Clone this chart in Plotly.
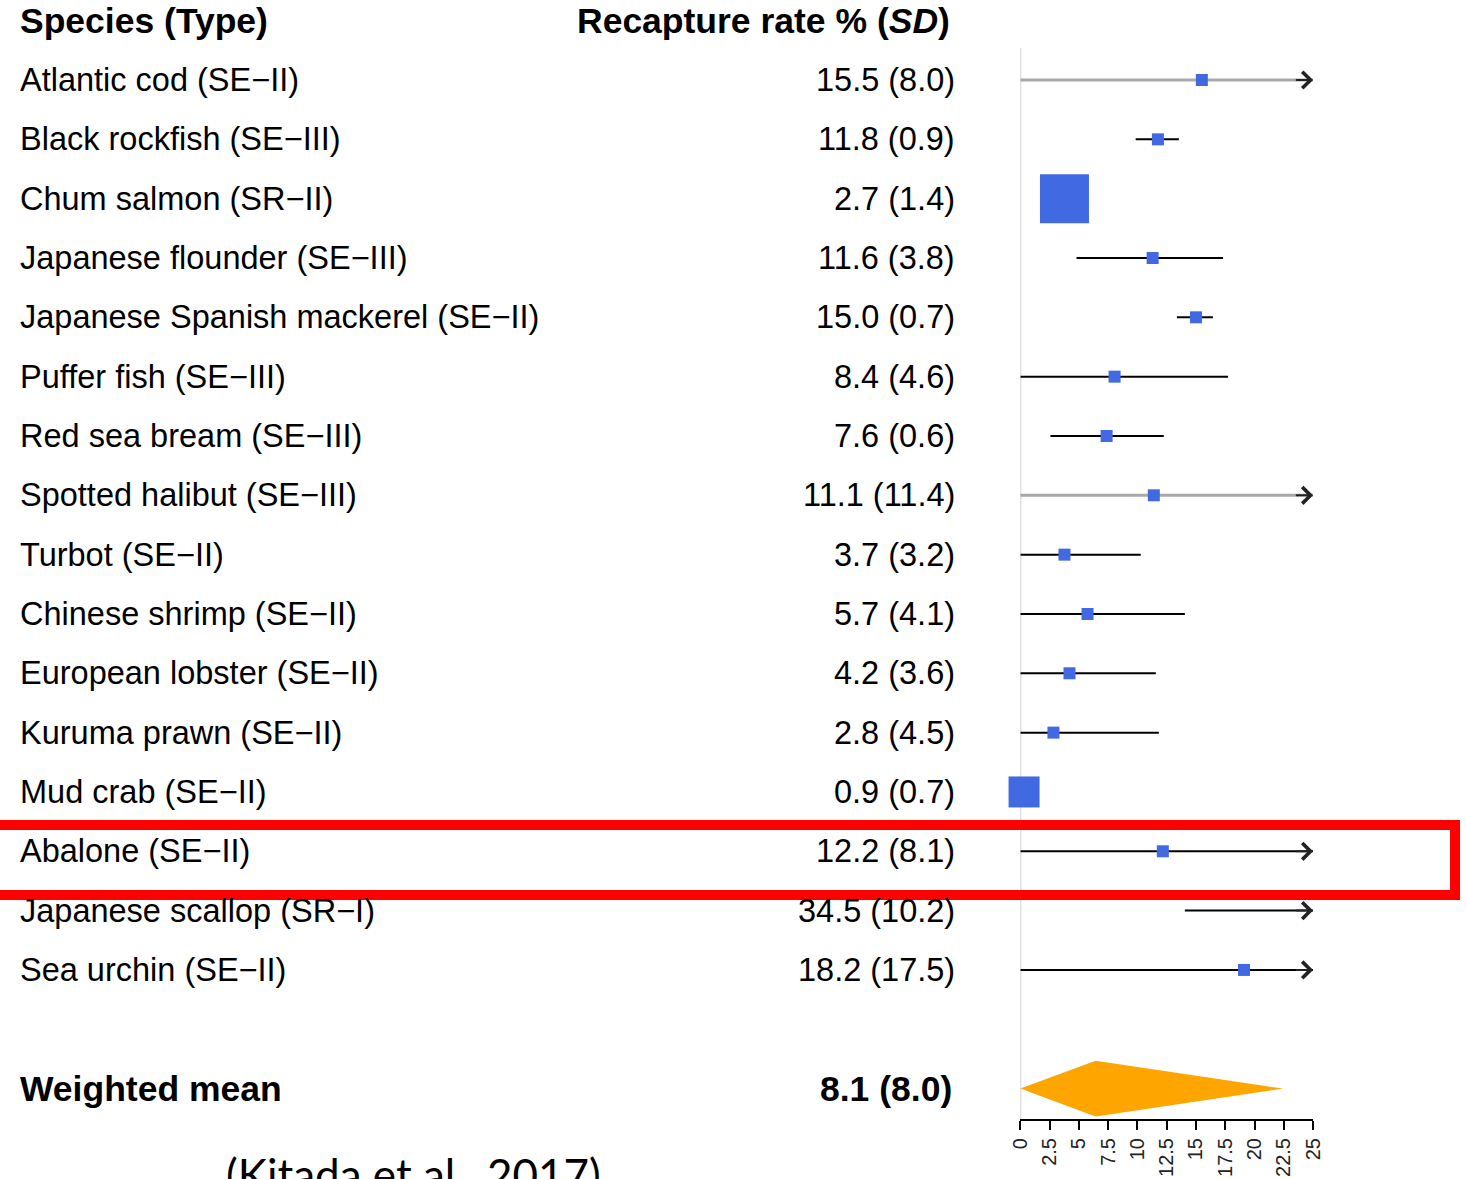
import plotly.graph_objects as go

# ---------------- data ----------------
species = [
    "Atlantic cod (SE\u2212II)",
    "Black rockfish (SE\u2212III)",
    "Chum salmon (SR\u2212II)",
    "Japanese flounder (SE\u2212III)",
    "Japanese Spanish mackerel (SE\u2212II)",
    "Puffer fish (SE\u2212III)",
    "Red sea bream (SE\u2212III)",
    "Spotted halibut (SE\u2212III)",
    "Turbot (SE\u2212II)",
    "Chinese shrimp (SE\u2212II)",
    "European lobster (SE\u2212II)",
    "Kuruma prawn (SE\u2212II)",
    "Mud crab (SE\u2212II)",
    "Abalone (SE\u2212II)",
    "Japanese scallop (SR\u2212I)",
    "Sea urchin (SE\u2212II)",
]
rate_text = [
    "15.5 (8.0)", "11.8 (0.9)", "2.7 (1.4)", "11.6 (3.8)", "15.0 (0.7)",
    "8.4 (4.6)", "7.6 (0.6)", "11.1 (11.4)", "3.7 (3.2)", "5.7 (4.1)",
    "4.2 (3.6)", "2.8 (4.5)", "0.9 (0.7)", "12.2 (8.1)", "34.5 (10.2)",
    "18.2 (17.5)",
]
# point estimates and interval limits as read from the plotted axis
estimate = [15.5, 11.75, 3.77, 11.3, 15.0, 8.05, 7.37, 11.4, 3.77, 5.74,
            4.2, 2.83, 0.32, 12.17, 34.5, 19.1]
ci_low = [0.0, 9.85, 2.0, 4.8, 13.37, 0.0, 2.57, 0.0, 0.0, 0.0,
          0.0, 0.0, 0.0, 0.0, 14.05, 0.0]
ci_high = [31.2, 13.54, 5.5, 17.3, 16.45, 17.74, 12.25, 33.4, 10.28, 14.05,
           11.57, 11.83, 0.9, 28.1, 54.5, 52.5]

mean_label = "Weighted mean"
mean_text = "8.1 (8.0)"
mean_low, mean_peak, mean_high = 0.0, 6.43, 22.45

x_ticks = [0, 2.5, 5, 7.5, 10, 12.5, 15, 17.5, 20, 22.5, 25]
x_tick_text = ["0", "2.5", "5", "7.5", "10", "12.5", "15", "17.5", "20", "22.5", "25"]
citation = "(Kitada et al., 2017)"

# ---------------- style ----------------
W, H = 1466, 1179
WE = 1455.0          # effective rendered width used for paper fractions
XMAX = 25
FONT = "Liberation Sans, Arial, sans-serif"
BLUE = "#4169E1"
box_px = [12, 12, 49, 12, 12, 12, 12, 12, 12, 12, 12, 12, 31, 12, 12, 12]
line_col = ["#A8A8A8", "black", "black", "black", "black", "black", "black",
            "#A8A8A8", "black", "black", "black", "black", "black", "black",
            "black", "black"]
line_w = [3 if c != "black" else 2 for c in line_col]
mean_row = len(species) + 1

row0_px, pitch = 80.0, 59.33
axis_px = 1119.0
y_bottom = (axis_px - row0_px) / pitch
y_top = (0 - row0_px) / pitch
dom_bottom = (H - axis_px) / H

LPAD = 14   # annotation inner offset, left-anchored
RPAD = -1   # annotation inner offset, right-anchored


def px(v):
    return v / WE


fig = go.Figure()

# interval lines
for i in range(len(species)):
    x0 = max(ci_low[i], 0)
    x1 = min(ci_high[i], XMAX)
    fig.add_trace(go.Scatter(
        x=[x0, x1], y=[i, i], mode="lines",
        line=dict(color=line_col[i], width=line_w[i]),
        hoverinfo="skip", showlegend=False, cliponaxis=False))
    if ci_high[i] > XMAX:
        fig.add_annotation(
            x=XMAX, y=i, ax=XMAX - 1.6, ay=i, xref="x", yref="y",
            axref="x", ayref="y", text="", showarrow=True,
            arrowhead=4, arrowsize=1.6, arrowwidth=2, arrowcolor="#222222",
            standoff=0, startstandoff=0, font=dict(size=1))

# boxes
idx = [i for i in range(len(species)) if estimate[i] <= XMAX]
fig.add_trace(go.Scatter(
    x=[estimate[i] for i in idx], y=idx, mode="markers",
    marker=dict(symbol="square", size=[box_px[i] for i in idx], color=BLUE,
                opacity=1, line=dict(width=0)),
    hoverinfo="skip", showlegend=False, cliponaxis=False))

# summary diamond
dh = 0.47
fig.add_trace(go.Scatter(
    x=[mean_low, mean_peak, mean_high, mean_peak, mean_low],
    y=[mean_row, mean_row - dh, mean_row, mean_row + dh, mean_row],
    mode="lines", fill="toself", fillcolor="#FFA500",
    line=dict(width=0, color="#FFA500"),
    hoverinfo="skip", showlegend=False, cliponaxis=False))

# reference line at 0
fig.add_shape(type="line", xref="x", yref="y", x0=0, x1=0,
              y0=(48 - row0_px) / pitch, y1=y_bottom,
              line=dict(color="#D3D3D3", width=2), layer="below")

# text columns
tf = dict(family=FONT, size=32.5, color="black")
bf = dict(family=FONT, size=35.5, color="black")
for i, (s, r) in enumerate(zip(species, rate_text)):
    fig.add_annotation(x=px(20 - LPAD), y=i, xref="paper", yref="y", text=s,
                       showarrow=False, xanchor="left", yanchor="middle", font=tf)
    fig.add_annotation(x=px(953 + RPAD), y=i, xref="paper", yref="y", text=r,
                       showarrow=False, xanchor="right", yanchor="middle", font=tf)

fig.add_annotation(x=px(20 - LPAD), y=-1, xref="paper", yref="y",
                   text="<b>Species (Type)</b>",
                   showarrow=False, xanchor="left", yanchor="middle", font=bf)
fig.add_annotation(x=px(948 + RPAD), y=-1, xref="paper", yref="y",
                   text="<b>Recapture rate % (<i>SD</i>)</b>",
                   showarrow=False, xanchor="right", yanchor="middle", font=bf)
fig.add_annotation(x=px(20 - LPAD), y=mean_row, xref="paper", yref="y",
                   text=f"<b>{mean_label}</b>",
                   showarrow=False, xanchor="left", yanchor="middle", font=bf)
fig.add_annotation(x=px(950 + RPAD), y=mean_row, xref="paper", yref="y",
                   text=f"<b>{mean_text}</b>",
                   showarrow=False, xanchor="right", yanchor="middle", font=bf)

# citation (cut off at the bottom edge)
fig.add_annotation(x=px(228 - LPAD), y=1 - 1146 / H, xref="paper", yref="paper",
                   text=citation, showarrow=False, xanchor="left", yanchor="top",
                   font=dict(family="Lato, sans-serif", size=44, color="black"))

# red highlight box
fig.add_shape(type="rect", xref="paper", yref="paper",
              x0=px(-20), x1=px(1454), y0=1 - 895 / H, y1=1 - 825 / H,
              line=dict(color="#FF0000", width=10), layer="above")

fig.update_layout(
    width=W, height=H, autosize=False, margin=dict(l=0, r=0, t=0, b=0),
    paper_bgcolor="white", plot_bgcolor="white",
    xaxis=dict(domain=[px(1016), px(1311)], range=[0, XMAX], showgrid=False,
               zeroline=False, showline=True, linecolor="black", linewidth=2,
               ticks="outside", ticklen=9, tickwidth=2, tickcolor="black",
               tickvals=x_ticks, ticktext=x_tick_text, tickangle=-90,
               tickfont=dict(family=FONT, size=20, color="#222222")),
    yaxis=dict(domain=[dom_bottom, 1], range=[y_bottom, y_top], visible=False,
               showgrid=False, zeroline=False),
)

post = (
    "document.documentElement.style.overflow='hidden';"
    "document.body.style.margin='0';"
    "document.body.style.overflow='hidden';"
)
fig.write_html("out.html", config={"displayModeBar": False},
               post_script=post)
